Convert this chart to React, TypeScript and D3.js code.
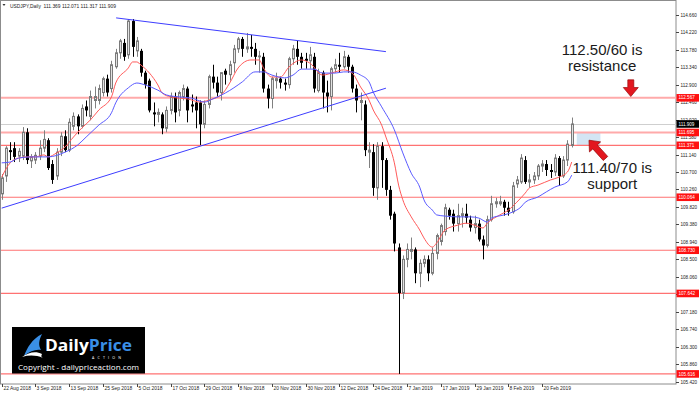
import React, { useEffect, useRef } from 'react';
import * as d3 from 'd3';

// USDJPY daily, 22 Aug 2018 -> 1 Mar 2019 (one value per trading day)
const opens = [
  110.15, 110.6, 111.25, 111.3, 111.1, 111.1, 111.7, 110.98, 111.0, 111.1, 111.3, 111.5, 110.9, 110.6, 111.2, 111.6,
  111.25, 111.85, 112.1, 111.85, 112.35, 112.1, 112.5, 112.5, 112.7, 113.05, 112.8, 113.35, 113.7, 113.95, 113.65, 114.5,
  113.75, 113.75, 113.2, 113.0, 112.2, 112.15, 112.15, 111.8, 112.25, 112.6, 112.25, 112.6, 112.8, 112.4, 112.45, 112.45,
  111.9, 112.4, 113.1, 112.95, 112.7, 113.25, 113.15, 113.45, 113.8, 114.05, 113.8, 113.85, 113.8, 113.6, 113.6, 112.8,
  112.55, 113.0, 113.05, 112.95, 112.9, 113.55, 113.8, 113.6, 113.55, 113.5, 113.6, 112.75, 113.2, 112.7, 112.6, 113.3,
  113.4, 113.35, 113.6, 113.35, 112.8, 112.45, 112.4, 111.2, 111.2, 110.3, 111.35, 111.0, 110.25, 109.65, 108.8, 107.65,
  108.5, 108.7, 108.75, 108.15, 108.4, 108.5, 108.15, 108.65, 108.95, 109.2, 109.75, 109.65, 109.4, 109.6, 109.65, 109.5,
  109.3, 109.4, 109.0, 108.85, 109.5, 109.9, 109.9, 109.95, 109.8, 109.7, 110.4, 110.45, 111.0, 110.45, 110.5, 110.6,
  110.85, 110.9, 110.75, 110.7, 111.05, 110.6, 111.0, 111.369,
];
const highs = [
  110.65, 111.35, 111.45, 111.45, 111.3, 111.83, 111.8, 111.15, 111.2, 111.5, 111.75, 111.55, 111.0, 111.3, 111.7, 111.75,
  112.05, 112.2, 112.15, 112.4, 112.5, 112.75, 112.85, 112.9, 113.1, 113.15, 113.5, 113.8, 114.05, 114.05, 114.55, 114.55,
  114.1, 113.8, 113.25, 113.05, 112.45, 112.3, 112.2, 112.35, 112.7, 112.7, 112.75, 112.9, 112.85, 112.65, 112.6, 112.5,
  112.5, 113.15, 113.4, 113.1, 113.2, 113.3, 113.5, 113.9, 114.1, 114.1, 114.2, 114.15, 113.95, 113.75, 113.7, 112.9,
  113.1, 113.2, 113.1, 113.05, 113.6, 113.9, 114.0, 113.7, 113.7, 113.85, 113.7, 113.3, 113.25, 113.0, 113.35, 113.55,
  113.7, 113.75, 113.65, 113.4, 112.9, 112.7, 112.5, 111.45, 111.4, 111.45, 111.45, 111.05, 110.35, 109.7, 108.9, 108.6,
  108.9, 109.05, 108.8, 108.5, 108.6, 108.6, 108.8, 109.15, 109.4, 109.9, 109.8, 109.75, 109.9, 109.8, 109.9, 109.6,
  109.6, 109.5, 109.1, 109.6, 110.1, 110.05, 110.1, 110.0, 109.95, 110.45, 110.6, 111.15, 111.1, 110.65, 110.7, 110.9,
  111.0, 111.0, 110.9, 111.15, 111.1, 111.1, 111.5, 112.071,
];
const lows = [
  110.0, 110.45, 111.0, 110.95, 110.95, 111.0, 110.9, 110.8, 110.9, 111.0, 111.2, 110.75, 110.4, 110.5, 111.1, 111.2,
  111.2, 111.75, 111.65, 111.8, 112.1, 112.0, 112.3, 112.4, 112.6, 112.6, 112.7, 113.3, 113.55, 113.5, 113.55, 113.6,
  113.6, 113.1, 112.8, 112.2, 111.85, 111.95, 111.65, 111.7, 112.15, 111.95, 112.1, 112.5, 111.95, 112.2, 111.8, 111.38,
  111.8, 112.3, 112.8, 112.6, 112.5, 112.9, 113.0, 113.2, 113.7, 113.6, 113.7, 113.6, 113.4, 113.2, 112.7, 112.3,
  112.3, 112.8, 112.8, 112.75, 112.8, 113.4, 113.4, 113.3, 113.3, 113.3, 112.7, 112.7, 112.3, 112.2, 112.25, 113.2,
  113.2, 113.3, 113.2, 112.7, 112.2, 112.0, 111.1, 110.8, 110.1, 110.0, 110.3, 110.1, 109.5, 108.7, 105.616, 107.5,
  108.3, 108.5, 107.9, 107.8, 108.3, 107.95, 108.1, 108.5, 108.85, 109.1, 109.5, 109.2, 109.2, 109.3, 109.4, 109.2,
  109.15, 108.95, 108.5, 108.8, 109.45, 109.8, 109.85, 109.6, 109.6, 109.65, 110.3, 110.4, 110.4, 110.3, 110.4, 110.5,
  110.7, 110.6, 110.55, 110.6, 110.35, 110.55, 110.85, 111.317,
];
const closes = [
  110.55, 111.3, 111.2, 111.08, 111.22, 111.7, 111.0, 111.08, 111.12, 111.3, 111.52, 110.8, 110.5, 111.2, 111.6, 111.25,
  111.95, 112.1, 111.85, 112.3, 112.25, 112.6, 112.6, 112.8, 113.05, 112.7, 113.4, 113.7, 114.0, 113.6, 114.5, 113.85,
  114.0, 113.2, 112.9, 112.25, 112.15, 112.2, 111.8, 112.25, 112.6, 112.2, 112.7, 112.8, 112.25, 112.35, 112.25, 111.9,
  112.4, 113.1, 112.95, 112.7, 113.2, 113.15, 113.4, 113.8, 114.05, 113.8, 113.85, 113.8, 113.6, 113.62, 112.8, 112.55,
  113.05, 113.05, 112.95, 112.9, 113.55, 113.8, 113.6, 113.45, 113.5, 113.65, 112.8, 113.2, 112.7, 112.6, 113.3, 113.4,
  113.35, 113.6, 113.35, 112.8, 112.5, 112.5, 111.25, 111.25, 110.3, 111.35, 111.0, 110.25, 109.6, 108.9, 107.65, 108.5,
  108.75, 108.75, 108.15, 108.4, 108.5, 108.15, 108.65, 109.1, 109.35, 109.8, 109.6, 109.4, 109.6, 109.65, 109.55, 109.3,
  109.4, 109.0, 108.85, 109.5, 109.9, 109.95, 109.95, 109.8, 109.7, 110.35, 110.5, 111.05, 110.45, 110.5, 110.6, 110.85,
  110.9, 110.75, 110.7, 111.05, 110.6, 111.0, 111.4, 111.909,
];

// moving averages: [bar index, price]
const fastMa: [number, number][] = [
  [0, 110.57], [2, 110.93], [4, 111.05], [6, 111.08], [8, 111.08], [10, 111.13], [11, 111.08], [13, 111.18],
  [15, 111.33], [17, 111.58], [19, 111.81], [21, 112.01], [23, 112.26], [26, 112.59], [27, 112.94], [30, 113.32],
  [31, 113.47], [32, 113.47], [33, 113.39], [35, 113.19], [37, 112.89], [38, 112.69], [40, 112.59], [42, 112.56],
  [44, 112.54], [47, 112.46], [49, 112.51], [52, 112.64], [54, 112.94], [56, 113.32], [59, 113.52], [61, 113.52],
  [62, 113.32], [64, 113.09], [66, 113.09], [68, 113.34], [71, 113.52], [73, 113.44], [76, 113.14], [79, 113.22],
  [81, 113.27], [83, 113.19], [85, 112.84], [87, 112.51], [88, 112.26], [90, 111.88], [91, 111.58], [93, 110.93],
  [94, 110.37], [95, 110.0], [97, 109.57], [99, 109.24], [100, 109.04], [102, 108.81], [103, 108.91], [105, 109.24],
  [108, 109.36], [110, 109.41], [112, 109.36], [114, 109.29], [115, 109.41], [118, 109.62], [120, 109.74], [122, 109.94],
  [124, 110.17], [125, 110.3], [127, 110.37], [130, 110.5], [132, 110.57], [134, 110.7], [135, 110.95],
];
const slowMa: [number, number][] = [
  [0, 110.93], [2, 110.95], [4, 111.05], [7, 111.08], [11, 111.08], [15, 111.2], [18, 111.38], [20, 111.58],
  [23, 111.88], [26, 112.19], [27, 112.44], [30, 112.82], [32, 112.94], [34, 112.89], [37, 112.76], [39, 112.64],
  [42, 112.59], [45, 112.56], [48, 112.46], [50, 112.54], [53, 112.69], [57, 112.97], [60, 113.22], [62, 113.22],
  [64, 113.14], [67, 113.07], [69, 113.14], [71, 113.29], [74, 113.29], [76, 113.19], [79, 113.19], [81, 113.22],
  [83, 113.22], [85, 113.14], [87, 112.97], [88, 112.71], [90, 112.34], [93, 111.76], [95, 111.18], [97, 110.67],
  [99, 110.32], [100, 110.0], [102, 109.74], [103, 109.62], [105, 109.59], [108, 109.57], [111, 109.57], [113, 109.54],
  [115, 109.44], [116, 109.54], [119, 109.62], [121, 109.69], [123, 109.82], [124, 109.94], [127, 110.07], [129, 110.2],
  [131, 110.32], [134, 110.45], [135, 110.62],
];

const trendUpper: [number, number][] = [[27.1, 114.58], [91, 113.73]];
const trendLower: [number, number][] = [[0, 109.79], [91, 112.81]];

const levels = [112.567, 111.695, 111.371, 110.064, 108.73, 107.642, 105.616];
const levelLabels = ['112.567', '111.695', '111.371', '110.064', '108.730', '107.642', '105.616'];
const thickLevels = [112.567, 111.695];
const lastPrice = 111.909;
const lastPriceLabel = '111.909';

const yTickValues = [
  114.66, 114.22, 113.78, 113.34, 112.9, 112.46, 112.02, 111.58, 111.14, 110.7, 110.26,
  109.82, 109.38, 108.94, 108.5, 108.06, 107.62, 107.18, 106.74, 106.3, 105.86, 105.42,
];
const yTickLabels = yTickValues.map((v) => v.toFixed(3));

const xTickBars = [0, 8, 16, 24, 32, 40, 48, 56, 64, 72, 80, 88, 96, 104, 112, 120, 128];
const xTickLabels = [
  '22 Aug 2018', '3 Sep 2018', '13 Sep 2018', '25 Sep 2018', '5 Oct 2018', '17 Oct 2018', '29 Oct 2018',
  '8 Nov 2018', '20 Nov 2018', '30 Nov 2018', '12 Dec 2018', '24 Dec 2018', '7 Jan 2019', '17 Jan 2019',
  '29 Jan 2019', '8 Feb 2019', '20 Feb 2019',
];

const headerText = 'USDJPY,Daily  111.369 112.071 111.317 111.909';

// support box and notes, placed in chart coordinates [bar, price]
const zoneBars = [136.2, 141.8];
const zonePrices = [111.371, 111.695];
const resistanceNote = ['112.50/60 is', 'resistance'];
const supportNote = ['111.40/70 is', 'support'];
const resistanceArrow: [number, number][] = [[149, 113.02], [149, 112.6]];
const supportArrow: [number, number][] = [[143, 111.04], [139.1, 111.5]];

const W = 700;
const H = 394;
const plot = { left: 1, right: 676, top: 1, bottom: 384 };
const axisFont = 'Liberation Sans, Arial, sans-serif';

const App = () => {
  const svgRef = useRef<SVGSVGElement | null>(null);

  useEffect(() => {
    if (!svgRef.current) return;
    const svg = d3.select(svgRef.current);
    svg.selectAll('*').remove();

    const x = d3.scaleLinear().domain([0, 135]).range([1.7, 571.7]);
    const y = d3.scaleLinear().domain([105.42, 114.66]).range([381.7, 14.7]);

    svg.append('rect').attr('width', W).attr('height', H).attr('fill', '#fff');

    // chart frame
    svg
      .append('rect')
      .attr('x', plot.left - 0.5)
      .attr('y', plot.top - 0.5)
      .attr('width', plot.right - plot.left + 0.5)
      .attr('height', plot.bottom - plot.top + 0.5)
      .attr('fill', 'none')
      .attr('stroke', '#8c8c8c');

    const chart = svg.append('g');

    // support zone
    chart
      .append('rect')
      .attr('x', x(zoneBars[0]))
      .attr('y', y(zonePrices[1]))
      .attr('width', x(zoneBars[1]) - x(zoneBars[0]))
      .attr('height', y(zonePrices[0]) - y(zonePrices[1]))
      .attr('fill', '#d3e5f4');

    // last price line
    chart
      .append('line')
      .attr('x1', plot.left)
      .attr('x2', plot.right)
      .attr('y1', Math.round(y(lastPrice)) + 0.5)
      .attr('y2', Math.round(y(lastPrice)) + 0.5)
      .attr('stroke', '#cfcfcf');

    // horizontal levels
    chart
      .selectAll('line.level')
      .data(levels)
      .enter()
      .append('line')
      .attr('class', 'level')
      .attr('x1', plot.left)
      .attr('x2', plot.right)
      .attr('y1', (d) => y(d))
      .attr('y2', (d) => y(d))
      .attr('stroke', (d) => (thickLevels.includes(d) ? '#ffaaaa' : '#ff7272'))
      .attr('stroke-width', (d) => (thickLevels.includes(d) ? 2 : 1.2));

    // candles
    const idx = d3.range(opens.length);
    const candle = chart.selectAll('g.candle').data(idx).enter().append('g').attr('class', 'candle');
    candle.each(function (i) {
      const g = d3.select(this);
      const cx = Math.round(x(i)) + 0.5;
      const o = opens[i];
      const c = closes[i];
      const bull = c >= o;
      const top = y(Math.max(o, c));
      const bot = y(Math.min(o, c));
      g.append('line')
        .attr('x1', cx)
        .attr('x2', cx)
        .attr('y1', y(highs[i]))
        .attr('y2', y(lows[i]))
        .attr('stroke', bull ? '#808080' : '#000');
      if (bull) {
        g.append('rect')
          .attr('x', cx - 1)
          .attr('y', top)
          .attr('width', 2)
          .attr('height', Math.max(bot - top, 0.6))
          .attr('fill', '#e2e2e2')
          .attr('stroke', '#7a7a7a');
      } else {
        g.append('rect')
          .attr('x', cx - 1.5)
          .attr('y', top)
          .attr('width', 3)
          .attr('height', Math.max(bot - top, 1))
          .attr('fill', '#000');
      }
    });

    // moving averages
    const line = d3
      .line<[number, number]>()
      .x((d) => x(d[0]))
      .y((d) => y(d[1]))
      .curve(d3.curveMonotoneX);
    chart.append('path').attr('d', line(fastMa)).attr('fill', 'none').attr('stroke', '#ff5a5a').attr('stroke-width', 1);
    chart.append('path').attr('d', line(slowMa)).attr('fill', 'none').attr('stroke', '#5a5aff').attr('stroke-width', 1);

    // trend lines
    const straight = d3
      .line<[number, number]>()
      .x((d) => x(d[0]))
      .y((d) => y(d[1]));
    [trendUpper, trendLower].forEach((t) => {
      chart.append('path').attr('d', straight(t)).attr('fill', 'none').attr('stroke', '#3d3dff').attr('stroke-width', 1);
    });

    // notes
    const noteText = (lines: string[], bar: number, price: number) => {
      const t = chart
        .append('text')
        .attr('x', x(bar))
        .attr('y', y(price))
        .attr('text-anchor', 'middle')
        .attr('font-family', 'Liberation Sans, Arial, sans-serif')
        .attr('font-size', 15)
        .attr('fill', '#1a1a1a');
      lines.forEach((l, k) => {
        t.append('tspan').attr('x', x(bar)).attr('dy', k === 0 ? 0 : 16.5).text(l);
      });
    };
    noteText(resistanceNote, 142.2, 113.65);
    noteText(supportNote, 144.6, 110.68);

    const arrow = (pts: [number, number][]) => {
      const x0 = x(pts[0][0]);
      const y0 = y(pts[0][1]);
      const x1 = x(pts[1][0]);
      const y1 = y(pts[1][1]);
      const len = Math.hypot(x1 - x0, y1 - y0);
      const ang = (Math.atan2(y1 - y0, x1 - x0) * 180) / Math.PI;
      const hl = 9;
      const sw = 3;
      const hw = 7.5;
      const shape = [
        [0, -sw],
        [len - hl, -sw],
        [len - hl, -hw],
        [len, 0],
        [len - hl, hw],
        [len - hl, sw],
        [0, sw],
      ];
      chart
        .append('polygon')
        .attr('points', shape.map((p) => p.join(',')).join(' '))
        .attr('transform', `translate(${x0},${y0}) rotate(${ang})`)
        .attr('fill', '#e3171f')
        .attr('stroke', '#9a0a0a')
        .attr('stroke-width', 0.7);
    };
    arrow(resistanceArrow);
    arrow(supportArrow);

    // right price axis
    const axis = svg.append('g');
    const tagYs = [...levels, lastPrice].map((p) => y(p));
    axis
      .selectAll('g.ytick')
      .data(yTickValues)
      .enter()
      .append('g')
      .attr('class', 'ytick')
      .each(function (d, k) {
        const g = d3.select(this);
        const yy = Math.round(y(d)) + 0.5;
        g.append('line').attr('x1', plot.right).attr('x2', plot.right + 3).attr('y1', yy).attr('y2', yy).attr('stroke', '#444');
        // labels fully under a price tag are not visible on the original
        if (tagYs.some((ty) => Math.abs(ty - yy) < 2.5)) return;
        g.append('text')
          .attr('x', plot.right + 4.5)
          .attr('y', yy)
          .attr('dy', '0.35em')
          .attr('font-family', axisFont)
          .attr('font-size', 4.6)
          .attr('fill', '#222')
          .text(yTickLabels[k]);
      });

    const tag = (price: number, label: string, bg: string) => {
      const yy = y(price);
      axis
        .append('rect')
        .attr('x', plot.right + 0.5)
        .attr('y', yy - 3.8)
        .attr('width', 22.5)
        .attr('height', 7.6)
        .attr('fill', bg);
      axis
        .append('text')
        .attr('x', plot.right + 2.5)
        .attr('y', yy)
        .attr('dy', '0.35em')
        .attr('font-family', axisFont)
        .attr('font-size', 4.6)
        .attr('fill', '#fff')
        .text(label);
    };
    levels.forEach((lv, k) => tag(lv, levelLabels[k], '#ff1010'));
    tag(lastPrice, lastPriceLabel, '#000');

    // time axis
    const xa = svg.append('g');
    xTickBars.forEach((b, k) => {
      const xx = Math.round(x(b)) + 0.5;
      xa.append('line').attr('x1', xx).attr('x2', xx).attr('y1', plot.bottom).attr('y2', plot.bottom + 3).attr('stroke', '#444');
      xa.append('text')
        .attr('x', xx + 1)
        .attr('y', plot.bottom + 6)
        .attr('font-family', axisFont)
        .attr('font-size', 4.9)
        .attr('fill', '#222')
        .text(xTickLabels[k]);
    });

    // header
    svg.append('path').attr('d', 'M2.5,4 L5.5,4 L4,6 Z').attr('fill', '#333');
    svg
      .append('text')
      .attr('x', 10)
      .attr('y', 7.5)
      .attr('font-family', axisFont)
      .attr('font-size', 4.9)
      .attr('fill', '#222')
      .attr('xml:space', 'preserve')
      .text(headerText);

    // watermark logo
    const logo = svg.append('g').attr('transform', 'translate(12,327)');
    logo.append('rect').attr('width', 133).attr('height', 46.5).attr('fill', '#000');
    logo
      .append('path')
      .attr('d', 'M12,29 C15,21 20,12 30,7 C27,13 26,18 29,23 C24,22 18,24 12,29 Z')
      .attr('fill', '#3a8fe6');
    logo
      .append('path')
      .attr('d', 'M10,30 C17,25 24,24 30,27 C29,29 29,30 31,31 C24,28 17,28 10,30 Z')
      .attr('fill', '#fff');
    const brand = logo
      .append('text')
      .attr('x', 33)
      .attr('y', 23.5)
      .attr('font-family', 'Open Sans, sans-serif')
      .attr('font-weight', 700)
      .attr('font-size', 16.5)
      .attr('textLength', 87)
      .attr('lengthAdjust', 'spacingAndGlyphs');
    brand.append('tspan').attr('fill', '#fff').text('Daily');
    brand.append('tspan').attr('fill', '#3a8fe6').text('Price');
    logo
      .append('text')
      .attr('x', 80)
      .attr('y', 31.5)
      .attr('font-family', 'Open Sans, sans-serif')
      .attr('font-size', 3.6)
      .attr('fill', '#fff')
      .attr('letter-spacing', 3.2)
      .text('ACTION');
    logo
      .append('text')
      .attr('x', 66.5)
      .attr('y', 42.5)
      .attr('text-anchor', 'middle')
      .attr('font-family', 'Open Sans, sans-serif')
      .attr('font-size', 7)
      .attr('fill', '#fff')
      .attr('textLength', 121)
      .attr('lengthAdjust', 'spacingAndGlyphs')
      .text('Copyright - dailypriceaction.com');
  }, []);

  return (
    <div style={{ position: 'absolute', left: 0, top: 0 }}>
      <svg ref={svgRef} width={W} height={H} style={{ display: 'block' }} />
    </div>
  );
};

export default App;
